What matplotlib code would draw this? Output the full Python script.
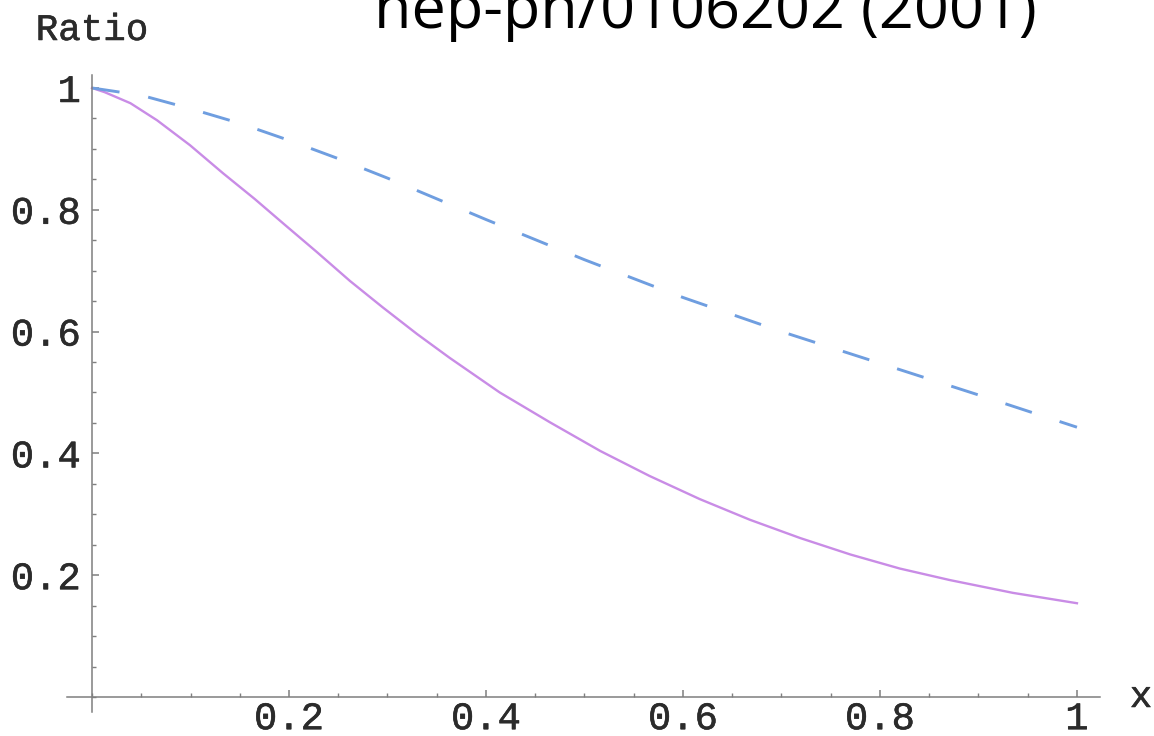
import numpy as np
import matplotlib
matplotlib.use("Agg")
import matplotlib.pyplot as plt
import matplotlib.patheffects as pe
from matplotlib.ticker import MultipleLocator, FixedLocator

# values
dash_x = [0, 0.05, 0.1, 0.15, 0.2, 0.25, 0.3, 0.35, 0.4, 0.5, 0.6, 0.7, 0.8, 0.9, 1.0]
dash_y = [1.0, 0.988, 0.966, 0.942, 0.914, 0.884, 0.852, 0.818, 0.784, 0.718, 0.656,
          0.600, 0.548, 0.496, 0.443]

solid_x = [0, 0.013, 0.039, 0.066, 0.0995, 0.133, 0.165, 0.196, 0.228, 0.262, 0.295,
           0.330, 0.363, 0.414, 0.465, 0.516, 0.566, 0.617, 0.668, 0.719, 0.770,
           0.820, 0.871, 0.935, 1.0]
solid_y = [1.0, 0.993, 0.975, 0.947, 0.906, 0.860, 0.818, 0.775, 0.731, 0.683, 0.640,
           0.596, 0.557, 0.500, 0.451, 0.404, 0.363, 0.325, 0.291, 0.261, 0.234,
           0.211, 0.192, 0.171, 0.154]

tick_vals = [0.2, 0.4, 0.6, 0.8, 1.0]
tick_labels = ["0.2", "0.4", "0.6", "0.8", "1"]

plt.rcParams['lines.scale_dashes'] = False
mono = ['Liberation Mono', 'DejaVu Sans Mono']
lab_color = '#2b2b2b'
thick = [pe.withStroke(linewidth=0.4, foreground=lab_color)]

fig = plt.figure(figsize=(11.54, 7.36), dpi=100)
ax = fig.add_axes([67/1154, 24/736, 1033/1154, 637/736])

ax.plot(solid_x, solid_y, color='#c98ce6', lw=1.7)
ax.plot(dash_x, dash_y, color='#6f9ee0', lw=2.1, dashes=(20, 21))

ax.set_xlim(-0.0254, 1.0234)
ax.set_ylim(-0.0246, 1.0213)

for s in ['top', 'right']:
    ax.spines[s].set_visible(False)
for s in ['left', 'bottom']:
    ax.spines[s].set_position(('data', 0))
    ax.spines[s].set_color('#7f7f7f')
    ax.spines[s].set_linewidth(1.1)

ax.xaxis.set_major_locator(FixedLocator(tick_vals))
ax.yaxis.set_major_locator(FixedLocator(tick_vals))
ax.xaxis.set_minor_locator(MultipleLocator(0.05))
ax.yaxis.set_minor_locator(MultipleLocator(0.05))
ax.set_xticklabels(tick_labels, family=mono, fontsize=28, color=lab_color, path_effects=thick)
ax.set_yticklabels(tick_labels, family=mono, fontsize=28, color=lab_color, path_effects=thick)
ax.tick_params(which='major', direction='in', length=5, width=1.1, color='#7f7f7f')
ax.tick_params(which='minor', direction='in', length=3, width=1.0, color='#7f7f7f')
ax.tick_params(axis='x', which='major', pad=3)
ax.tick_params(axis='y', which='major', pad=8)

fig.text(92/1154, 1 - 30/736, 'Ratio', family=mono, fontsize=27, color=lab_color,
         path_effects=thick, ha='center', va='center')
fig.text(1141/1154, 1 - 697/736, 'x', family=mono, fontsize=27, color=lab_color,
         path_effects=thick, ha='center', va='center')

fig.text(705/1154, 1 - 28/736, 'hep-ph/0106202 (2001)', family=['Open Sans', 'DejaVu Sans'],
         fontsize=44, color='black', ha='center', va='baseline')

fig.savefig('out.png', dpi=100, facecolor='white')
